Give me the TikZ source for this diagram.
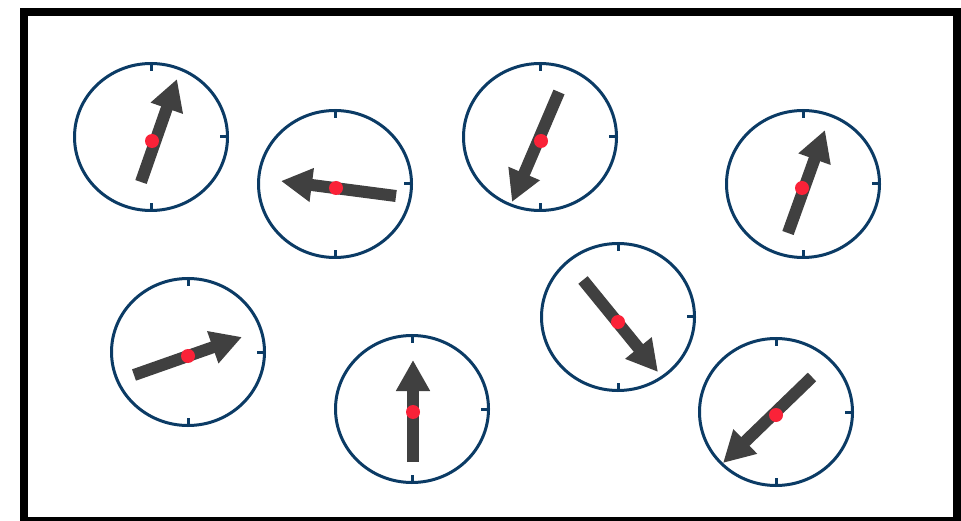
\documentclass[tikz,border=0pt]{standalone}
\usepackage{tikz}
\usetikzlibrary{shapes.geometric,arrows.meta}
\definecolor{dialblue}{HTML}{0B3B65}
\definecolor{needlegray}{HTML}{404040}
\definecolor{pivotred}{HTML}{FA2238}

\begin{document}
\begin{tikzpicture}[
    x=1pt, y=-1pt,
    dial/.style={ellipse, draw=dialblue, line width=3pt, minimum width=153pt,
                 minimum height=147pt, inner sep=0pt},
    tick/.style={draw=dialblue, line width=3pt},
    needle/.style={-{Triangle[length=31pt, width=32pt]}, line width=12pt, needlegray},
    pivot/.style={circle, fill=pivotred, minimum size=14pt, inner sep=0pt},
]
\clip (0,0) rectangle (961,521);
\fill[white] (0,0) rectangle (961,521);
\draw[line width=8pt] (24,12) rectangle (957,521);

% top row
\node[dial] (d1) at (151,137) {};
\node[dial] (d2) at (335,184) {};
\node[dial] (d3) at (540,137) {};
\node[dial] (d4) at (803,184) {};
% bottom row
\node[dial] (d5) at (188,352) {};
\node[dial] (d6) at (412,409) {};
\node[dial] (d7) at (618,317) {};
\node[dial] (d8) at (776,412) {};

\draw[tick] (d1.north) -- ++(0,9);  \draw[tick] (d1.east) -- ++(-9,0);  \draw[tick] (d1.south) -- ++(0,-9);
\draw[tick] (d2.north) -- ++(0,9);  \draw[tick] (d2.east) -- ++(-9,0);  \draw[tick] (d2.south) -- ++(0,-9);
\draw[tick] (d3.north) -- ++(0,9);  \draw[tick] (d3.east) -- ++(-9,0);  \draw[tick] (d3.south) -- ++(0,-9);
\draw[tick] (d4.north) -- ++(0,9);  \draw[tick] (d4.east) -- ++(-9,0);  \draw[tick] (d4.south) -- ++(0,-9);
\draw[tick] (d5.north) -- ++(0,9);  \draw[tick] (d5.east) -- ++(-9,0);  \draw[tick] (d5.south) -- ++(0,-9);
\draw[tick] (d6.north) -- ++(0,9);  \draw[tick] (d6.east) -- ++(-9,0);  \draw[tick] (d6.south) -- ++(0,-9);
\draw[tick] (d7.north) -- ++(0,9);  \draw[tick] (d7.east) -- ++(-9,0);  \draw[tick] (d7.south) -- ++(0,-9);
\draw[tick] (d8.north) -- ++(0,9);  \draw[tick] (d8.east) -- ++(-9,0);  \draw[tick] (d8.south) -- ++(0,-9);

% needle ends
\coordinate (t1) at (141,182); \coordinate (h1) at (177,79);
\coordinate (t2) at (396,196); \coordinate (h2) at (281,181);
\coordinate (t3) at (559,92);  \coordinate (h3) at (512,202);
\coordinate (t4) at (788,233); \coordinate (h4) at (825,130);
\coordinate (t5) at (134,375); \coordinate (h5) at (242,337);
\coordinate (t6) at (413,462); \coordinate (h6) at (413,360);
\coordinate (t7) at (583,280); \coordinate (h7) at (658,372);
\coordinate (t8) at (812,377); \coordinate (h8) at (723,463);

\draw[needle] (t1) -- (h1);
\draw[needle] (t2) -- (h2);
\draw[needle] (t3) -- (h3);
\draw[needle] (t4) -- (h4);
\draw[needle] (t5) -- (h5);
\draw[needle] (t6) -- (h6);
\draw[needle] (t7) -- (h7);
\draw[needle] (t8) -- (h8);

\node[pivot] (p1) at (152,141) {};
\node[pivot] (p2) at (336,188) {};
\node[pivot] (p3) at (541,141) {};
\node[pivot] (p4) at (802,188) {};
\node[pivot] (p5) at (188,356) {};
\node[pivot] (p6) at (413,412) {};
\node[pivot] (p7) at (618,322) {};
\node[pivot] (p8) at (776,415) {};
\end{tikzpicture}
\end{document}
